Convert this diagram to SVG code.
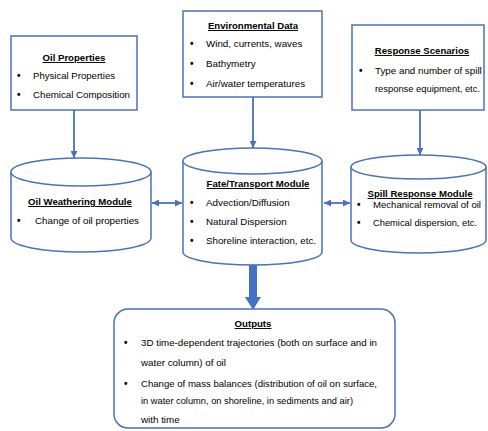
<svg xmlns="http://www.w3.org/2000/svg" width="488" height="431" viewBox="0 0 488 431">
<defs>
<style>
.box{fill:#fff;stroke:#4A72B8;stroke-width:1.5}
.cyl{fill:#fff;stroke:#4A72B8;stroke-width:1.5}
.ln{stroke:#4A72B8;stroke-width:1.8;fill:none}
text{font-family:"Liberation Sans",Arial,sans-serif;font-size:9.8px;fill:#000}
.t{font-weight:bold;text-decoration:underline;text-anchor:middle;font-size:9.6px}
.b{font-size:10px;font-weight:bold}
</style>
<marker id="ah" viewBox="0 0 10 10" refX="10" refY="5" markerWidth="7" markerHeight="7" markerUnits="userSpaceOnUse" orient="auto-start-reverse">
<path d="M0,0 L10,5 L0,10 z" fill="#4A72B8"/>
</marker>
</defs>
<rect width="488" height="431" fill="#fff"/>

<g id="connectors">
<line class="ln" x1="74" y1="110" x2="74" y2="158" marker-end="url(#ah)"/>
<line class="ln" x1="253" y1="97" x2="253" y2="148" marker-end="url(#ah)"/>
<line class="ln" x1="420" y1="110" x2="420" y2="155" marker-end="url(#ah)"/>
<line class="ln" x1="152" y1="203" x2="182" y2="203" stroke-width="2.5" marker-start="url(#ah)" marker-end="url(#ah)"/>
<line class="ln" x1="324" y1="203" x2="350" y2="203" stroke-width="2.5" marker-start="url(#ah)" marker-end="url(#ah)"/>
<polygon points="249,265 257,265 257,297 261,297 253,310 245,297 249,297" fill="#4472C4"/>
</g>

<g id="oil-properties">
<rect class="box" x="11" y="36" width="126" height="74"/>
<text class="t" x="74" y="61">Oil Properties</text>
<text class="b" x="17" y="79">•</text><text x="33" y="79" textLength="82" lengthAdjust="spacingAndGlyphs">Physical Properties</text>
<text class="b" x="17" y="98">•</text><text x="33" y="98" textLength="97" lengthAdjust="spacingAndGlyphs">Chemical Composition</text>
</g>

<g id="environmental-data">
<rect class="box" x="183" y="11" width="139" height="86"/>
<text class="t" x="253" y="29">Environmental Data</text>
<text class="b" x="190" y="47">•</text><text x="206" y="47">Wind, currents, waves</text>
<text class="b" x="190" y="67">•</text><text x="206" y="67">Bathymetry</text>
<text class="b" x="190" y="87">•</text><text x="206" y="87">Air/water temperatures</text>
</g>

<g id="response-scenarios">
<rect class="box" x="352" y="25" width="132" height="85"/>
<text class="t" x="422" y="54">Response Scenarios</text>
<text class="b" x="359" y="74">•</text><text x="375" y="74">Type and number of spill</text>
<text x="375" y="92" textLength="105" lengthAdjust="spacingAndGlyphs">response equipment, etc.</text>
</g>

<g id="oil-weathering-module">
<path class="cyl" d="M11,172 L11,238 A70,14 0 0 0 151,238 L151,172"/>
<ellipse class="cyl" cx="81" cy="172" rx="70" ry="14"/>
<text class="t" x="80" y="205">Oil Weathering Module</text>
<text class="b" x="17" y="224">•</text><text x="35" y="224">Change of oil properties</text>
</g>

<g id="fate-transport-module">
<path class="cyl" d="M183,161 L183,252 A69.5,13 0 0 0 322,252 L322,161"/>
<ellipse class="cyl" cx="252.5" cy="161" rx="69.5" ry="13"/>
<text class="t" x="258" y="187">Fate/Transport Module</text>
<text class="b" x="190" y="206">•</text><text x="206" y="206">Advection/Diffusion</text>
<text class="b" x="190" y="225">•</text><text x="206" y="225">Natural Dispersion</text>
<text class="b" x="190" y="244">•</text><text x="206" y="244" textLength="110" lengthAdjust="spacingAndGlyphs">Shoreline interaction, etc.</text>
</g>

<g id="spill-response-module">
<path class="cyl" d="M351,167 L351,240 A67.5,13 0 0 0 486,240 L486,167"/>
<ellipse class="cyl" cx="418.5" cy="167" rx="67.5" ry="12"/>
<text class="t" x="420" y="197">Spill Response Module</text>
<text class="b" x="357" y="208">•</text><text x="373" y="208" textLength="108" lengthAdjust="spacingAndGlyphs">Mechanical removal of oil</text>
<text class="b" x="357" y="226">•</text><text x="373" y="226" textLength="104" lengthAdjust="spacingAndGlyphs">Chemical dispersion, etc.</text>
</g>

<g id="outputs">
<rect class="box" x="114" y="309" width="281" height="119" rx="14"/>
<text class="t" x="253" y="327">Outputs</text>
<text class="b" x="124" y="346">•</text><text x="141" y="346" textLength="236" lengthAdjust="spacingAndGlyphs">3D time-dependent trajectories (both on surface and in</text>
<text x="141" y="366">water column) of oil</text>
<text class="b" x="124" y="387">•</text><text x="141" y="387" textLength="236" lengthAdjust="spacingAndGlyphs">Change of mass balances (distribution of oil on surface,</text>
<text x="141" y="404" textLength="212" lengthAdjust="spacingAndGlyphs">in water column, on shoreline, in sediments and air)</text>
<text x="141" y="423">with time</text>
</g>
</svg>
